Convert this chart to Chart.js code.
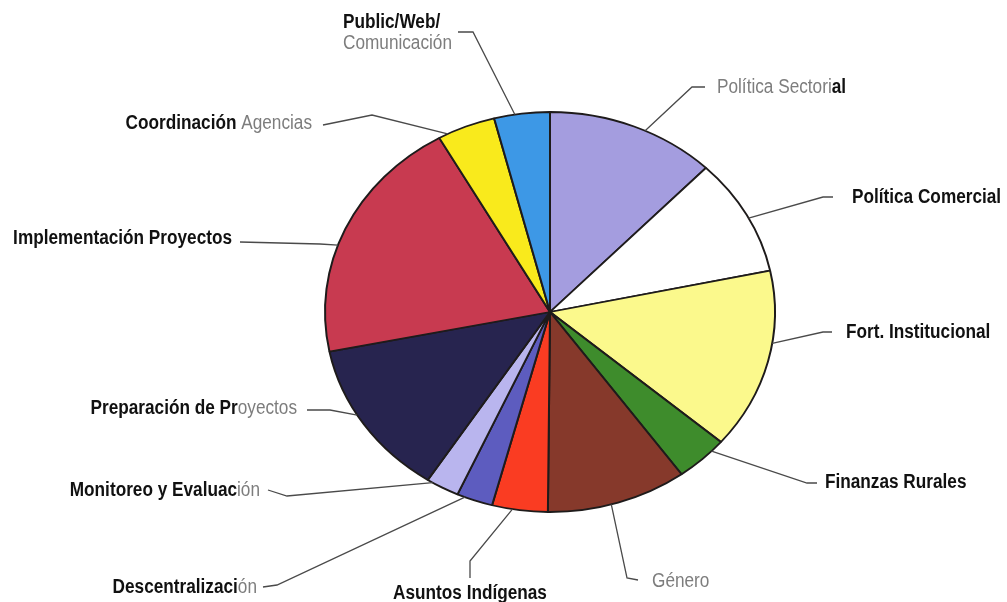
<!DOCTYPE html>
<html>
<head>
<meta charset="utf-8">
<title>Distribución por área</title>
<script src="https://cdn.jsdelivr.net/npm/chart.js@4"></script>
<style>
  html, body { margin: 0; padding: 0; background: #fff; }
  #wrap { width: 1007px; height: 602px; }
</style>
</head>
<body>
<div id="wrap"><canvas id="pie" width="1007" height="602"></canvas></div>
<script>
// Slices, clockwise from 12 o'clock (percent of total)
const categories = [
    'Política Sectorial', 'Política Comercial', 'Fort. Institucional', 'Finanzas Rurales',
    'Género', 'Asuntos Indígenas', 'Descentralización', 'Monitoreo y Evaluación',
    'Preparación de Proyectos', 'Implementación Proyectos', 'Coordinación Agencias',
    'Public/Web/Comunicación'
];
const shares = [12.2, 9.5, 14.6, 3.8, 10.1, 4.0, 2.6, 2.4, 12.7, 20.0, 4.2, 4.0];
const sliceColors = [
    '#a49ddf', '#ffffff', '#fbf98c', '#3e8c2c',
    '#86392b', '#fa3c22', '#5d5cbf', '#b9b5ee',
    '#27244f', '#c83a50', '#f9ea1c', '#3d98e6'
];

const BLACK = '#111111';
const GRAY = '#7d7d7d';

// label layout: which slice, where along it the leader starts, the leader's
// fixed bends, and the text anchor. Runs mimic the scan's mixed ink.
const labelLayout = [
    { i: 0, f: 0.57, pts: [[705, 87], [692, 87]], x: 717, y: 87, align: 'left',
      lines: [[['Política Sectori', GRAY], ['al', BLACK]]] },
    { i: 1, f: 0.53, pts: [[833, 197], [823, 197]], x: 852, y: 197, align: 'left',
      lines: [[['Política Comercial', BLACK]]] },
    { i: 2, f: 0.40, pts: [[832, 332], [823, 332]], x: 846, y: 332, align: 'left',
      lines: [[['Fort. Institucional', BLACK]]] },
    { i: 3, f: 0.26, pts: [[817, 483], [807, 483]], x: 825, y: 482, align: 'left',
      lines: [[['Finanzas Rurales', BLACK]]] },
    { i: 4, f: 0.55, pts: [[638, 580], [627, 578]], x: 652, y: 581, align: 'left',
      lines: [[['Género', GRAY]]] },
    { i: 5, f: 0.63, pts: [[470, 578], [470, 561]], x: 470, y: 593, align: 'center',
      lines: [[['Asuntos Indígenas', BLACK]]] },
    { i: 6, f: 0.78, pts: [[263, 587], [277, 585]], x: 257, y: 587, align: 'right',
      lines: [[['Descentralizaci', BLACK], ['ón', GRAY]]] },
    { i: 7, f: 0.83, pts: [[268, 490], [287, 496]], x: 260, y: 490, align: 'right',
      lines: [[['Monitoreo y Evaluac', BLACK], ['ión', GRAY]]] },
    { i: 8, f: 0.57, pts: [[307, 410], [330, 410]], x: 297, y: 408, align: 'right',
      lines: [[['Preparación de Pr', BLACK], ['oyectos', GRAY]]] },
    { i: 9, f: 0.43, pts: [[240, 242], [320, 244]], x: 232, y: 238, align: 'right',
      lines: [[['Implementación Proyectos', BLACK]]] },
    { i: 10, f: 0.16, pts: [[323, 125], [372, 115]], x: 312, y: 123, align: 'right',
      lines: [[['Coordinación ', BLACK], ['Agencias', GRAY]]] },
    { i: 11, f: 0.375, pts: [[458, 32], [473, 32]], x: 343, y: 22, align: 'left',
      lines: [[['Public/Web/', BLACK]], [['Comunicación', GRAY]]] }
];

const SQUASH = 200 / 225;   // the printed pie is a little wider than tall
const FONT_PX = 20;
const TEXT_SX = 0.86;

function runFont(color) {
    return (color === GRAY ? '' : 'bold ') + FONT_PX + 'px "Liberation Sans", Arial, sans-serif';
}

function drawRuns(ctx, runs, x, y, align) {
    let w = 0;
    runs.forEach(r => { ctx.font = runFont(r[1]); w += ctx.measureText(r[0]).width; });
    let cur = align === 'left' ? 0 : (align === 'right' ? -w : -w / 2);
    ctx.save();
    ctx.translate(x, y);
    ctx.scale(TEXT_SX, 1);
    ctx.textBaseline = 'middle';
    ctx.textAlign = 'left';
    runs.forEach(r => {
        ctx.font = runFont(r[1]);
        ctx.fillStyle = r[1];
        ctx.fillText(r[0], cur, 0);
        cur += ctx.measureText(r[0]).width;
    });
    ctx.restore();
}

const squashPlugin = {
    id: 'squash',
    beforeDatasetsDraw(chart) {
        const arc = chart.getDatasetMeta(0).data[0];
        const ctx = chart.ctx;
        ctx.save();
        ctx.translate(arc.x, arc.y);
        ctx.scale(1, SQUASH);
        ctx.translate(-arc.x, -arc.y);
    },
    afterDatasetsDraw(chart) {
        chart.ctx.restore();
    }
};

const leaderPlugin = {
    id: 'leaders',
    afterDraw(chart) {
        const ctx = chart.ctx;
        const arcs = chart.getDatasetMeta(0).data;
        labelLayout.forEach(l => {
            const a = arcs[l.i];
            const t = a.startAngle + l.f * (a.endAngle - a.startAngle);
            const ex = a.x + a.outerRadius * Math.cos(t);
            const ey = a.y + a.outerRadius * SQUASH * Math.sin(t);
            ctx.save();
            ctx.strokeStyle = '#4a4a4a';
            ctx.lineWidth = 1.3;
            ctx.beginPath();
            ctx.moveTo(l.pts[0][0], l.pts[0][1]);
            for (let k = 1; k < l.pts.length; k++) ctx.lineTo(l.pts[k][0], l.pts[k][1]);
            ctx.lineTo(ex, ey);
            ctx.stroke();
            ctx.restore();
            l.lines.forEach((runs, n) => drawRuns(ctx, runs, l.x, l.y + n * 21, l.align));
        });
    }
};

new Chart(document.getElementById('pie'), {
    type: 'pie',
    data: {
        labels: categories,
        datasets: [{
            data: shares,
            backgroundColor: sliceColors,
            borderColor: '#1e1b1b',
            borderWidth: 2,
            borderAlign: 'center'
        }]
    },
    options: {
        responsive: false,
        animation: false,
        devicePixelRatio: 1,
        radius: 225,
        layout: { padding: { left: 300, right: 207, top: 72, bottom: 50 } },
        plugins: {
            legend: { display: false },
            tooltip: { enabled: false }
        }
    },
    plugins: [squashPlugin, leaderPlugin]
});
</script>
</body>
</html>
